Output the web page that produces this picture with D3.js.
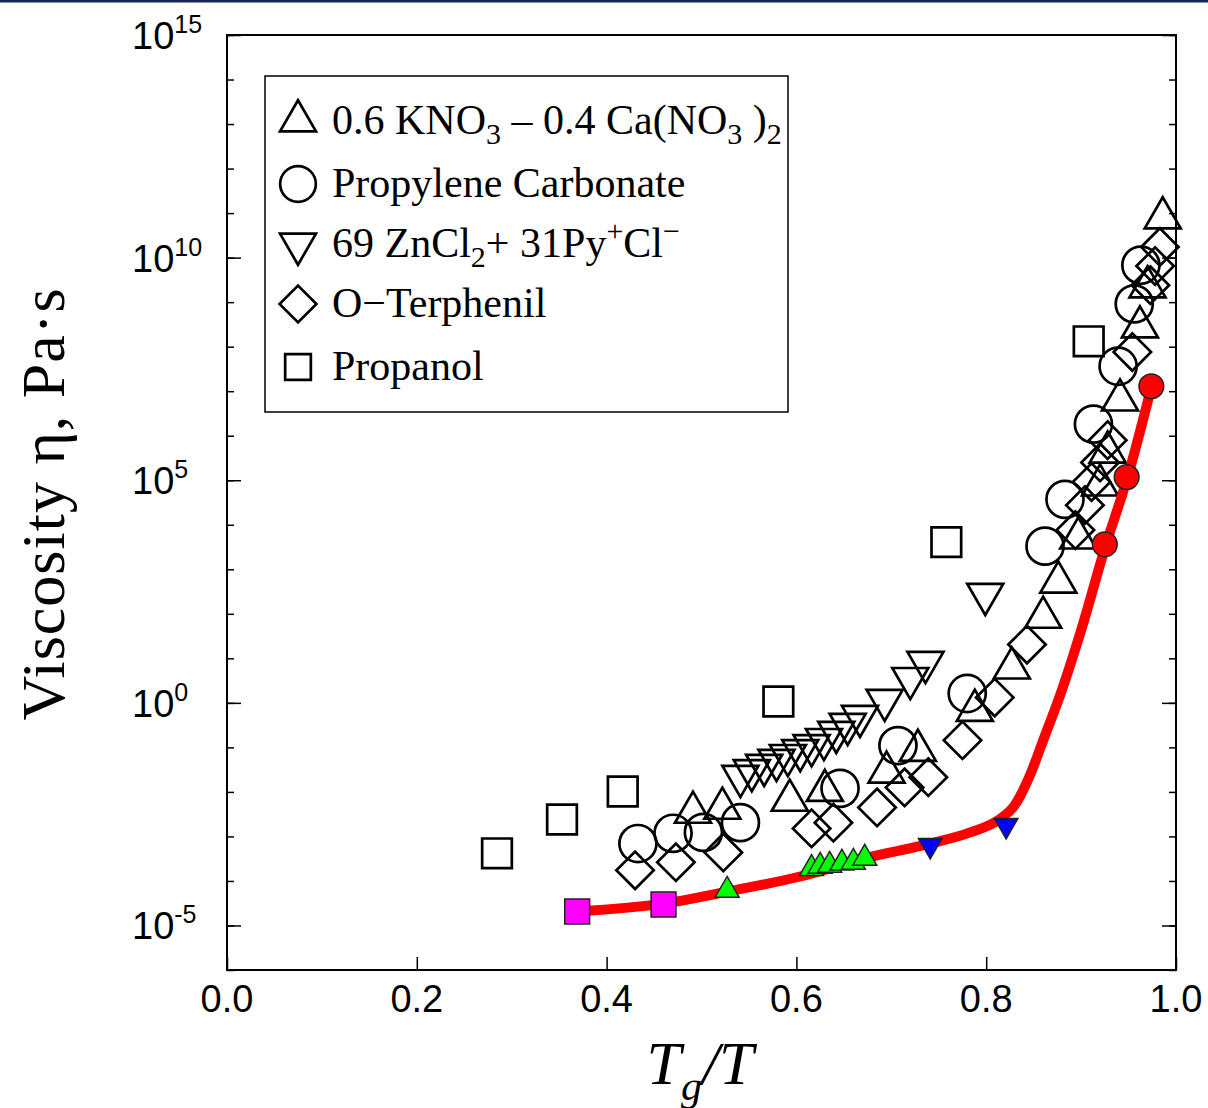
<!DOCTYPE html>
<html>
<head>
<meta charset="utf-8">
<script src="https://cdn.jsdelivr.net/npm/d3@7"></script>
<style>
  body { margin: 0; background: #fff; }
  svg { display: block; }
</style>
</head>
<body>
<div id="chart"></div>
<script>
const width = 1208;
const height = 1108;

// x = Tg/T, y = log10 of viscosity in Pa·s
const kno3X = [0.491, 0.522, 0.593, 0.630, 0.695, 0.728, 0.788, 0.827, 0.860, 0.876, 0.897, 0.920, 0.928, 0.941, 0.962, 0.970, 0.986];
const kno3Y = [-2.46, -2.37, -2.19, -1.97, -1.56, -1.07, -0.17, 0.78, 1.92, 2.71, 3.70, 4.89, 5.63, 6.80, 8.44, 9.34, 10.89];

const pcX = [0.433, 0.470, 0.502, 0.541, 0.646, 0.707, 0.780, 0.862, 0.883, 0.913, 0.939, 0.956, 0.963];
const pcY = [-3.16, -2.93, -2.91, -2.69, -1.92, -0.96, 0.21, 3.52, 4.57, 6.26, 7.56, 8.96, 9.83];

const zncl2X = [0.541, 0.553, 0.566, 0.579, 0.591, 0.604, 0.616, 0.629, 0.642, 0.654, 0.667, 0.693, 0.720, 0.736, 0.799];
const zncl2Y = [-1.65, -1.52, -1.40, -1.29, -1.18, -1.07, -0.96, -0.82, -0.66, -0.48, -0.30, 0.06, 0.55, 0.91, 2.44];

const otpX = [0.430, 0.473, 0.523, 0.616, 0.639, 0.685, 0.714, 0.739, 0.775, 0.809, 0.843, 0.894, 0.904, 0.911, 0.920, 0.928, 0.954, 0.973, 0.978, 0.983];
const otpY = [-3.76, -3.58, -3.36, -2.82, -2.69, -2.35, -1.90, -1.67, -0.84, 0.12, 1.31, 3.88, 4.44, 4.96, 5.40, 5.90, 7.88, 9.38, 9.81, 10.24];

const propX = [0.2845, 0.353, 0.417, 0.581, 0.758, 0.908];
const propY = [-3.38, -2.62, -1.99, 0.03, 3.61, 8.12];

// coloured points on the red curve
const magentaX = [0.369, 0.460];
const magentaY = [-4.685, -4.53];
const greenX = [0.527, 0.616, 0.625, 0.635, 0.648, 0.660, 0.672];
const greenY = [-4.21, -3.72, -3.67, -3.65, -3.60, -3.58, -3.49];
const blueX = [0.741, 0.821];
const blueY = [-3.20, -2.75];
const redX = [0.925, 0.948, 0.974];
const redY = [3.56, 5.07, 7.11];

// red curve
const curveX = [0.369, 0.460, 0.527, 0.604, 0.672, 0.741, 0.783, 0.815, 0.830, 0.846, 0.862, 0.876, 0.899, 0.926, 0.949, 0.974];
const curveY = [-4.685, -4.51, -4.24, -3.90, -3.49, -3.16, -2.91, -2.60, -2.30, -1.63, -0.73, 0.06, 1.56, 3.54, 5.07, 7.09];

const xTicks = [0, 0.2, 0.4, 0.6, 0.8, 1.0];
const yExponents = [15, 10, 5, 0, -5];

const legendRows = [
  [["0.6 KNO", 0], ["3", -1], [" \u2013 0.4 Ca(NO", 0], ["3", -1], [" )", 0], ["2", -1]],
  [["Propylene Carbonate", 0]],
  [["69 ZnCl", 0], ["2", -1], ["+ 31Py", 0], ["+", 1], ["Cl", 0], ["\u2212", 1]],
  [["O\u2212Terphenil", 0]],
  [["Propanol", 0]]
];

const svg = d3.select("#chart")
  .append("svg")
  .attr("width", width)
  .attr("height", height);

svg.append("rect").attr("x", 0).attr("y", 0).attr("width", width).attr("height", 2.5).attr("fill", "#17284d");

const x = d3.scaleLinear().domain([0, 1]).range([227, 1176]);
const y = d3.scaleLog().domain([1e-6, 1e15]).range([970, 35]);

const pts = (xs, ys) => xs.map((v, i) => ({ x: v, y: Math.pow(10, ys[i]) }));

// axes / ticks
const decades = d3.range(-6, 16).map(e => Math.pow(10, e));
const majors = yExponents.map(e => Math.pow(10, e));

function styleAxis(g) {
  g.select(".domain").remove();
  g.selectAll("line").attr("stroke", "#000").attr("stroke-width", 1.5);
  g.selectAll("text").remove();
}

svg.append("g").attr("transform", "translate(227,0)")
  .call(d3.axisLeft(y).tickValues(decades).tickSize(-7)).call(styleAxis);
svg.append("g").attr("transform", "translate(227,0)")
  .call(d3.axisLeft(y).tickValues(majors).tickSize(-14)).call(styleAxis);
svg.append("g").attr("transform", "translate(1176,0)")
  .call(d3.axisRight(y).tickValues(decades).tickSize(-7)).call(styleAxis);
svg.append("g").attr("transform", "translate(1176,0)")
  .call(d3.axisRight(y).tickValues(majors).tickSize(-14)).call(styleAxis);
svg.append("g").attr("transform", "translate(0,970)")
  .call(d3.axisBottom(x).tickValues(xTicks).tickSize(-13)).call(styleAxis);

svg.append("rect")
  .attr("x", 227).attr("y", 35).attr("width", 949).attr("height", 935)
  .attr("fill", "none").attr("stroke", "#000").attr("stroke-width", 2);

// tick labels
svg.selectAll(".xlab")
  .data(xTicks)
  .enter()
  .append("text")
  .attr("x", d => x(d))
  .attr("y", 1012)
  .attr("text-anchor", "middle")
  .style("font-family", "'Liberation Sans', Arial, sans-serif")
  .style("font-size", "38px")
  .text(d => d.toFixed(1));

const ylab = svg.selectAll(".ylab")
  .data(yExponents)
  .enter()
  .append("text")
  .attr("x", 132)
  .attr("y", d => y(Math.pow(10, d)) + 14)
  .style("font-family", "'Liberation Sans', Arial, sans-serif")
  .style("font-size", "38px");
ylab.append("tspan").text("10");
ylab.append("tspan").attr("dy", -16).style("font-size", "25px").text(d => d < 0 ? "-" + (-d) : d);

// axis titles
svg.append("text")
  .attr("transform", "translate(64,504) rotate(-90)")
  .attr("text-anchor", "middle")
  .style("font-family", "'Liberation Serif', 'Times New Roman', serif")
  .style("font-size", "62px")
  .style("letter-spacing", "1px")
  .text("Viscosity \u03b7, Pa\u00b7s");

const xt = svg.append("text")
  .attr("x", 700).attr("y", 1084)
  .attr("text-anchor", "middle")
  .style("font-family", "'Liberation Serif', 'Times New Roman', serif")
  .style("font-style", "italic")
  .style("font-size", "62px");
xt.append("tspan").text("T");
xt.append("tspan").attr("dy", 16).style("font-size", "42px").text("g");
xt.append("tspan").attr("dy", -16).text("/T");

// open markers
const sym = (type, size) => d3.symbol().type(type).size(size)();

function openMarkers(data, type, size, rot) {
  svg.append("g").selectAll("path")
    .data(data)
    .enter()
    .append("path")
    .attr("d", sym(type, size))
    .attr("transform", d => `translate(${x(d.x)},${y(d.y)}) rotate(${rot})`)
    .attr("fill", "none")
    .attr("stroke", "#000")
    .attr("stroke-width", 2.7);
}

openMarkers(pts(propX, propY), d3.symbolSquare, 880, 0);
openMarkers(pts(pcX, pcY), d3.symbolCircle, 1080, 0);
openMarkers(pts(zncl2X, zncl2Y), d3.symbolTriangle, 560, 180);
openMarkers(pts(otpX, otpY), d3.symbolSquare, 700, 45);
openMarkers(pts(kno3X, kno3Y), d3.symbolTriangle, 560, 0);

// red curve
const line = d3.line()
  .x(d => x(d.x))
  .y(d => y(d.y))
  .curve(d3.curveMonotoneX);

svg.append("path")
  .datum(pts(curveX, curveY))
  .attr("d", line)
  .attr("fill", "none")
  .attr("stroke", "#ff0000")
  .attr("stroke-width", 10);

function filledMarkers(data, type, size, rot, color) {
  svg.append("g").selectAll("path")
    .data(data)
    .enter()
    .append("path")
    .attr("d", sym(type, size))
    .attr("transform", d => `translate(${x(d.x)},${y(d.y)}) rotate(${rot})`)
    .attr("fill", color)
    .attr("stroke", "#222")
    .attr("stroke-width", 1.5);
}

filledMarkers(pts(magentaX, magentaY), d3.symbolSquare, 620, 0, "#ff00ff");
filledMarkers(pts(greenX, greenY), d3.symbolTriangle, 250, 0, "#00ff00");
filledMarkers(pts(blueX, blueY), d3.symbolTriangle, 240, 180, "#0000ff");
filledMarkers(pts(redX, redY), d3.symbolCircle, 480, 0, "#ff0000");

// legend
svg.append("rect")
  .attr("x", 265).attr("y", 76).attr("width", 523).attr("height", 336)
  .attr("fill", "#fff").attr("stroke", "#000").attr("stroke-width", 1.5);

const legendSymbols = [
  [d3.symbolTriangle, 560, 0],
  [d3.symbolCircle, 1000, 0],
  [d3.symbolTriangle, 560, 180],
  [d3.symbolSquare, 680, 45],
  [d3.symbolSquare, 660, 0]
];
const legendY = [121, 184, 244, 304, 367];

legendRows.forEach((row, i) => {
  const s = legendSymbols[i];
  svg.append("path")
    .attr("d", sym(s[0], s[1]))
    .attr("transform", `translate(298,${legendY[i]}) rotate(${s[2]})`)
    .attr("fill", "none")
    .attr("stroke", "#000")
    .attr("stroke-width", 2.7);

  const t = svg.append("text")
    .attr("x", 332)
    .attr("y", legendY[i] + 13)
    .style("font-family", "'Liberation Serif', 'Times New Roman', serif")
    .style("font-size", "42px");
  let shift = 0;
  row.forEach(([str, mode]) => {
    const target = mode === -1 ? 10 : mode === 1 ? -16 : 0;
    t.append("tspan")
      .attr("dy", target - shift)
      .style("font-size", mode === 0 ? "42px" : "30px")
      .text(str);
    shift = target;
  });
});
</script>
</body>
</html>
